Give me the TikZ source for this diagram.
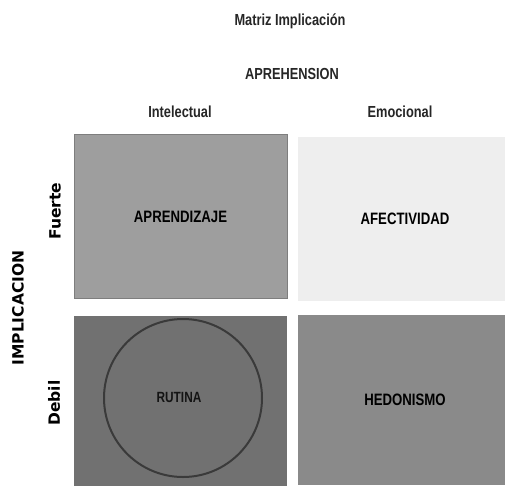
\documentclass[tikz,border=0pt]{standalone}
\usepackage{fontspec}
\usepackage{tikz}
\usetikzlibrary{positioning}
\newfontfamily\narrowfont[FakeStretch=0.8]{Liberation Sans}
\newfontfamily\wideboldfont{DejaVu Sans}
\definecolor{cellStrong}{HTML}{9E9E9E}
\definecolor{cellLight}{HTML}{EEEEEE}
\definecolor{cellRoutine}{HTML}{717171}
\definecolor{cellPleasure}{HTML}{8A8A8A}
\definecolor{ringDark}{HTML}{3A3A3A}
\tikzset{
  cell/.style={minimum width=213pt, minimum height=164pt, inner sep=0pt,
    font=\narrowfont\bfseries\fontsize{16.5}{18}\selectfont},
  head/.style={font=\narrowfont\bfseries\fontsize{16}{19}\selectfont, text=black!85},
  side/.style={rotate=90, font=\wideboldfont\bfseries\fontsize{15.5}{18}\selectfont}
}

\begin{document}
\begin{tikzpicture}[x=1pt, y=-1pt]
  \useasboundingbox (0,0) rectangle (505,485);
  \node[head] (title) at (290,21) {Matriz Implicación};
  \node[head] (aprehension) at (292,74) {APREHENSION};
  \node[head] (intelectual) at (180,112) {Intelectual};
  \node[head] (emocional) at (400,112) {Emocional};
  \node[cell, fill=cellStrong, draw=cellStrong!80!black, thin] (aprendizaje) at (180.5,216.5) {APRENDIZAJE};
  \node[cell, fill=cellLight, minimum width=214pt] (afectividad) at (405,218.5) {AFECTIVIDAD};
  \node[cell, fill=cellRoutine, minimum height=170pt] (rutina) at (180.5,401) {};
  \node[cell, fill=cellPleasure, minimum width=214pt, minimum height=170pt] (hedonismo) at (405,400) {HEDONISMO};
  \node[font=\narrowfont\bfseries\fontsize{14.8}{17}\selectfont, text=black!92] (rutinalabel) at (179,397) {RUTINA};
  \draw[ringDark, line width=2pt] (183,398) circle (79pt);
  \node[side] (fuerte) at (55,211) {Fuerte};
  \node[side] (debil) at (54,403) {Debil};
  \node[side] (implicacion) at (18,308) {IMPLICACION};
\end{tikzpicture}
\end{document}
